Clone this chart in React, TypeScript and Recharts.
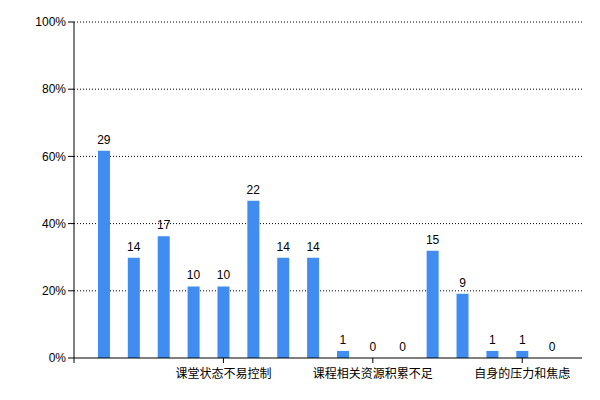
import React from "react";
import { ComposedChart, Bar, Line, XAxis, YAxis, CartesianGrid, LabelList } from "recharts";

const positions = [1, 2, 3, 4, 5, 6, 7, 8, 9, 10, 11, 12, 13, 14, 15, 16];
const counts = [29, 14, 17, 10, 10, 22, 14, 14, 1, 0, 0, 15, 9, 1, 1, 0];
const percents = [61.7, 29.8, 36.2, 21.3, 21.3, 46.8, 29.8, 29.8, 2.1, 0, 0, 31.9, 19.1, 2.1, 2.1, 0];
const xTickValues = [0, 5, 10, 15];
const xTickLabels = ["", "课堂状态不易控制", "课程相关资源积累不足", "自身的压力和焦虑"];
const yTickValues = [0, 20, 40, 60, 80, 100];

const data = positions.map((p, i) => ({ x: p, pct: percents[i], count: counts[i] }));

const FONT = "'Liberation Sans', Arial, 'Noto Sans CJK SC', sans-serif";

export default function App() {
  return (
    <div style={{ position: "fixed", left: 0, top: 0, width: 600, height: 400, background: "#fff" }}>
      <ComposedChart
        width={600}
        height={400}
        data={data}
        margin={{ top: 22, right: 18, bottom: 12, left: 0 }}
        barSize={12}
      >
        <CartesianGrid
          vertical={false}
          stroke="#000"
          strokeDasharray="1 2"
          horizontalValues={[20, 40, 60, 80, 100]}
        />
        <XAxis
          dataKey="x"
          type="number"
          domain={[0, 17]}
          ticks={xTickValues}
          interval={0}
          tickFormatter={(v: number) => xTickLabels[xTickValues.indexOf(v)] ?? ""}
          axisLine={{ stroke: "#000" }}
          tickLine={{ stroke: "#000" }}
          tickSize={5}
          tickMargin={6}
          height={30}
          tick={{ fill: "#000", fontSize: 12, fontFamily: FONT }}
        />
        <YAxis
          type="number"
          domain={[0, 100]}
          ticks={yTickValues}
          interval={0}
          tickFormatter={(v: number) => `${v}%`}
          axisLine={{ stroke: "#000" }}
          tickLine={{ stroke: "#000" }}
          tickSize={6}
          width={74}
          tick={{ fill: "#000", fontSize: 12, fontFamily: FONT }}
        />
        <Bar dataKey="pct" fill="#418CF0" isAnimationActive={false} />
        <Line
          dataKey="pct"
          stroke="none"
          dot={false}
          activeDot={false}
          isAnimationActive={false}
        >
          <LabelList
            dataKey="count"
            position="top"
            offset={7}
            style={{ fill: "#000", fontSize: 12, fontFamily: FONT }}
          />
        </Line>
      </ComposedChart>
    </div>
  );
}
